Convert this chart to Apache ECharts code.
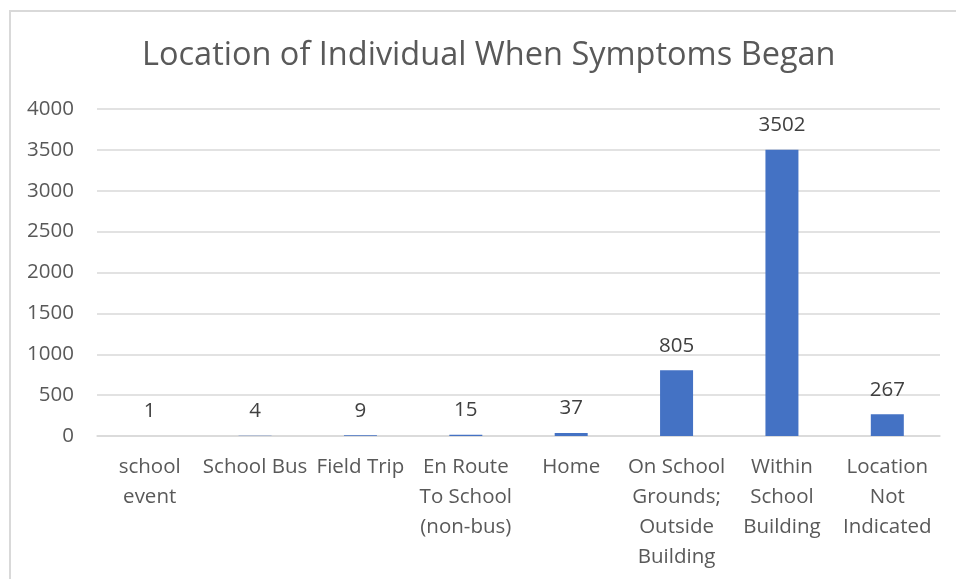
<!DOCTYPE html>
<html>
<head>
<meta charset="utf-8">
<script src="https://cdn.jsdelivr.net/npm/echarts@6/dist/echarts.min.js"></script>
<style>
  html, body { margin: 0; padding: 0; background: #fff; }
  .frame {
    position: absolute; left: 9px; top: 10px;
    width: 980px; height: 600px;
    border: 2px solid #d9d9d9; box-sizing: border-box;
  }
  #main { position: absolute; left: 0; top: 0; width: 956px; height: 579px; }
</style>
</head>
<body>
<div class="frame"></div>
<div id="main"></div>
<script>
// chart data
const categories = [
  'school\nevent',
  'School Bus',
  'Field Trip',
  'En Route\nTo School\n(non-bus)',
  'Home',
  'On School\nGrounds;\nOutside\nBuilding',
  'Within\nSchool\nBuilding',
  'Location\nNot\nIndicated'
]
const counts = [1, 4, 9, 15, 37, 805, 3502, 267]
const yTicks = { min: 0, max: 4000, interval: 500 }

const font = '"Open Sans", sans-serif'

var myChart = echarts.init(document.getElementById('main'))
var option = {
  animation: false,
  title: {
    text: 'Location of Individual When Symptoms Began',
    left: 137,
    top: 34,
    textStyle: { fontFamily: font, fontSize: 32.5, fontWeight: 'normal', color: '#595959' },
  },
  grid: { left: 97, right: 16, top: 109, bottom: 143 },
  xAxis: {
    type: 'category',
    data: categories,
    axisLine: { lineStyle: { color: '#d9d9d9', width: 1.5 } },
    axisTick: { show: false },
    axisLabel: {
      interval: 0,
      margin: 16,
      fontFamily: font,
      fontSize: 20.5,
      lineHeight: 30,
      color: '#595959',
    },
  },
  yAxis: {
    type: 'value',
    min: yTicks.min,
    max: yTicks.max,
    interval: yTicks.interval,
    axisLine: { show: false },
    axisTick: { show: false },
    splitLine: { lineStyle: { color: '#d9d9d9', width: 1.5 } },
    axisLabel: {
      margin: 23,
      fontFamily: font,
      fontSize: 20.5,
      color: '#595959',
      formatter: function (v) { return String(v) },
    },
  },
  series: [
    {
      type: 'bar',
      data: counts,
      barWidth: 33,
      itemStyle: { color: '#4472c4' },
      label: {
        show: true,
        position: 'top',
        distance: 14,
        fontFamily: font,
        fontSize: 20.5,
        color: '#404040',
      },
    },
  ],
}
myChart.setOption(option)

window.addEventListener('resize', function () {
  myChart.resize()
})
</script>
</body>
</html>
